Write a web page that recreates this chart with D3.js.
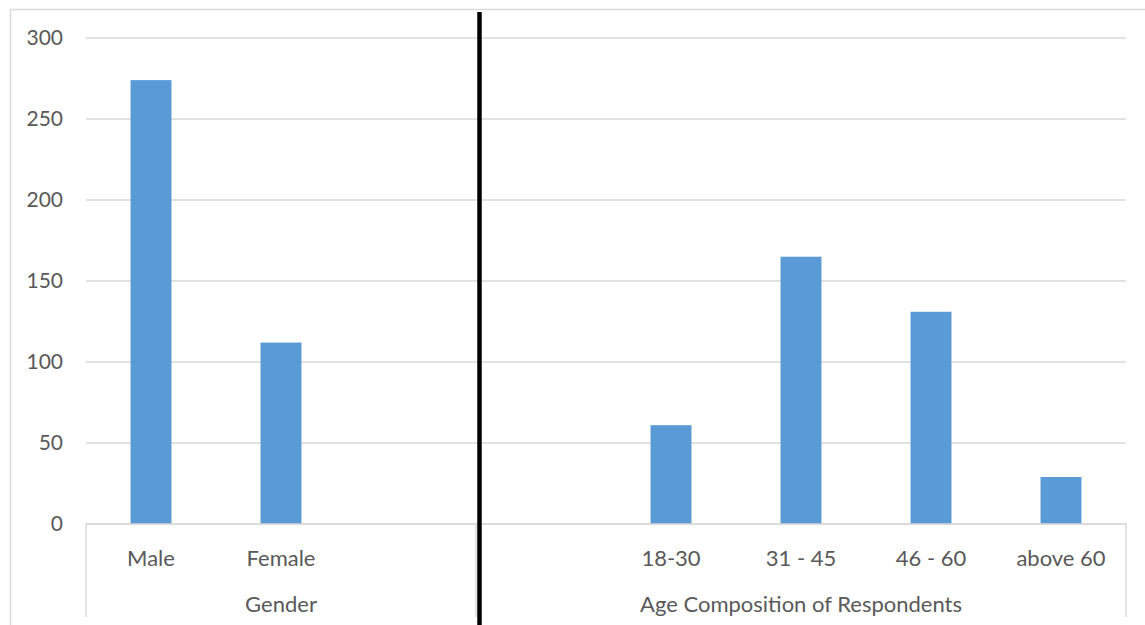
<!DOCTYPE html>
<html>
<head>
<meta charset="utf-8">
<script src="https://cdn.jsdelivr.net/npm/d3@7"></script>
<style>
  html, body { margin: 0; padding: 0; background: #fff; }
  svg { display: block; }
  text { font-family: Lato, "Open Sans", sans-serif; fill: #595959; }
</style>
</head>
<body>
<svg id="chart" width="1145" height="625"></svg>
<script>
// Respondent counts, grouped by gender and by age band
const categories = ["Male", "Female", "", "", "18-30", "31 - 45", "46 - 60", "above 60"];
const values = [274, 112, null, null, 61, 165, 131, 29];
const groupNames = ["Gender", "Age Composition of Respondents"];
const groupSpans = [3, 5];
const yTicks = [0, 50, 100, 150, 200, 250, 300];

const svg = d3.select("#chart");
const W = 1145, H = 625;
const plot = { left: 86, right: 1126, top: 38, bottom: 524 };
const gridColor = "#d9d9d9";
const barColor = "#5b9bd5";

// Outer chart frame
svg.append("rect")
  .attr("x", 10.5).attr("y", 9.5)
  .attr("width", W + 20).attr("height", H + 20)
  .attr("fill", "none").attr("stroke", gridColor).attr("stroke-width", 1.5);

const keys = categories.map((c, i) => i);
const x = d3.scaleBand()
  .domain(keys)
  .range([plot.left, plot.right])
  .paddingInner(0.685)
  .paddingOuter(0.3425);
const step = x.step();

const y = d3.scaleLinear().domain([0, 300]).range([plot.bottom, plot.top]);

// Horizontal gridlines
svg.append("g")
  .selectAll("line")
  .data(yTicks)
  .join("line")
  .attr("x1", plot.left).attr("x2", plot.right)
  .attr("y1", d => y(d)).attr("y2", d => y(d))
  .attr("stroke", gridColor).attr("stroke-width", 1.5);

// Y axis labels
const yAxis = d3.axisLeft(y).tickValues(yTicks).tickSize(0).tickPadding(23);
const yg = svg.append("g").attr("transform", `translate(${plot.left},0)`).call(yAxis);
yg.select(".domain").remove();
yg.selectAll("text")
  .style("font-size", "21px")
  .style("font-family", "Lato, 'Open Sans', sans-serif")
  .attr("fill", "#595959");

// Bars
svg.append("g")
  .selectAll("rect")
  .data(keys.filter(i => values[i] != null))
  .join("rect")
  .attr("x", i => x(i))
  .attr("width", x.bandwidth())
  .attr("y", i => y(values[i]))
  .attr("height", i => y(0) - y(values[i]))
  .attr("fill", barColor);

// Category axis baseline
svg.append("line")
  .attr("x1", plot.left).attr("x2", plot.right)
  .attr("y1", plot.bottom).attr("y2", plot.bottom)
  .attr("stroke", gridColor).attr("stroke-width", 1.5);

// Group boundaries for the two-level category axis
let start = 0;
const bounds = [0];
groupSpans.forEach(s => { start += s; bounds.push(start); });
svg.append("g")
  .selectAll("line")
  .data(bounds)
  .join("line")
  .attr("x1", b => plot.left + b * step).attr("x2", b => plot.left + b * step)
  .attr("y1", plot.bottom).attr("y2", 617)
  .attr("stroke", gridColor).attr("stroke-width", 1.5);

// Category labels
svg.append("g")
  .selectAll("text")
  .data(keys.filter(i => categories[i] !== ""))
  .join("text")
  .attr("x", i => x(i) + x.bandwidth() / 2)
  .attr("y", 566)
  .attr("text-anchor", "middle")
  .style("font-size", "22px")
  .text(i => categories[i]);

// Group labels
svg.append("g")
  .selectAll("text")
  .data(groupNames)
  .join("text")
  .attr("x", (d, i) => plot.left + (bounds[i] + groupSpans[i] / 2) * step)
  .attr("y", 612)
  .attr("text-anchor", "middle")
  .style("font-size", "22px")
  .text(d => d);

// Heavy separator between the gender and age panels
const sepX = plot.left + bounds[1] * step + 3.5;
svg.append("line")
  .attr("x1", sepX).attr("x2", sepX)
  .attr("y1", 12).attr("y2", H)
  .attr("stroke", "#000").attr("stroke-width", 4.5);
</script>
</body>
</html>
